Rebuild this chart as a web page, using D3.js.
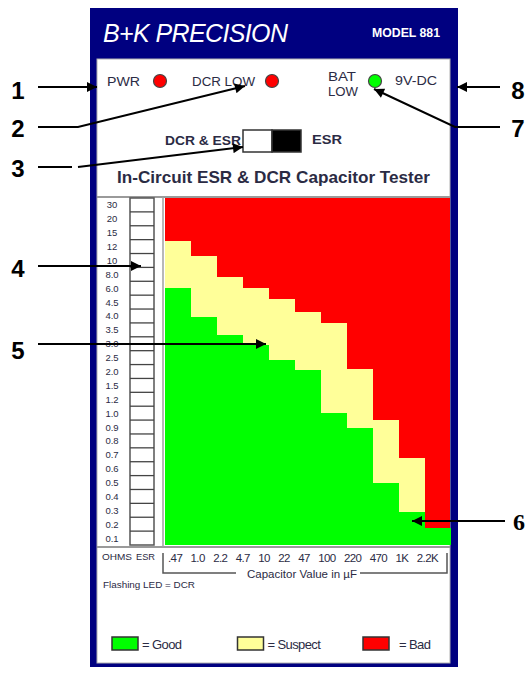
<!DOCTYPE html>
<html>
<head>
<meta charset="utf-8">
<script src="https://cdn.jsdelivr.net/npm/d3@7"></script>
<style>
    body { margin: 0; background: #fff; }
    text { font-family: 'Liberation Sans', Arial, sans-serif; }
</style>
</head>
<body>
<div id="chart"></div>
<script>
// ESR rows, top to bottom (ohms)
const esrLabels = ['30', '20', '15', '12', '10', '8.0', '6.0', '4.5', '4.0', '3.5', '3.0', '2.5', '2.0',
    '1.5', '1.2', '1.0', '0.9', '0.8', '0.7', '0.6', '0.5', '0.4', '0.3', '0.2', '0.1'];
// capacitor values along the bottom (uF)
const capLabels = ['.47', '1.0', '2.2', '4.7', '10', '22', '47', '100', '220', '470', '1K', '2.2K'];
// per chart column: where "bad" ends and where "good" starts, in ESR rows from the top
const badEdge = [3.1, 4.2, 5.7, 6.5, 7.3, 8.2, 9.0, 12.3, 16.0, 18.7, 23.8];
const goodEdge = [6.5, 8.6, 9.9, 10.6, 11.7, 12.4, 15.5, 16.6, 20.5, 22.6, 23.8];

const legendItems = ['= Good', '= Suspect', '= Bad'];
const legendColors = ['#00ff00', '#ffff99', '#ff0000'];

const width = 530;
const height = 673;
const navy = '#000080';
const ink = '#2b2b44';

const svg = d3
    .select('#chart')
    .append('svg')
    .attr('width', width)
    .attr('height', height)
    .attr('viewBox', [0, 0, width, height]);

// Panel
svg.append('rect')
    .attr('x', 90).attr('y', 8)
    .attr('width', 368).attr('height', 659)
    .attr('fill', navy);
svg.append('rect')
    .attr('x', 97).attr('y', 59)
    .attr('width', 353).attr('height', 604)
    .attr('fill', '#fff')
    .attr('stroke', '#b0b0b0');

svg.append('text')
    .attr('x', 103).attr('y', 42)
    .attr('fill', '#fff')
    .style('font-style', 'italic')
    .style('font-size', '25px')
    .attr('textLength', 185)
    .text('B+K PRECISION');
svg.append('text')
    .attr('x', 372).attr('y', 37)
    .attr('fill', '#fff')
    .style('font-weight', 'bold')
    .style('font-size', '13px')
    .attr('textLength', 68)
    .attr('lengthAdjust', 'spacingAndGlyphs')
    .text('MODEL 881');

// Indicator row
const txt = (x, y, s, size, opts = {}) =>
    svg.append('text')
        .attr('x', x).attr('y', y)
        .attr('fill', opts.fill || ink)
        .attr('text-anchor', opts.anchor || 'start')
        .attr('dominant-baseline', 'central')
        .style('font-size', size + 'px')
        .style('font-weight', opts.weight || 'normal')
        .attr('textLength', opts.len || null)
        .attr('lengthAdjust', 'spacingAndGlyphs')
        .text(s);

txt(107, 82, 'PWR', 12, { len: 33 });
txt(192, 82, 'DCR LOW', 12, { len: 63 });
txt(328, 77, 'BAT', 12, { len: 28 });
txt(328, 92, 'LOW', 12, { len: 30 });
txt(395, 81, '9V-DC', 12, { len: 42 });

const leds = [[160, '#ff0000'], [272, '#ff0000'], [375, '#00ff00']];
svg.selectAll('.led')
    .data(leds)
    .join('circle')
    .attr('class', 'led')
    .attr('cx', (d) => d[0])
    .attr('cy', 81)
    .attr('r', 6.5)
    .attr('fill', (d) => d[1])
    .attr('stroke', '#444')
    .attr('stroke-width', 1.2);

// Switch
txt(165, 141, 'DCR & ESR', 12, { len: 76, weight: 'bold' });
svg.append('rect')
    .attr('x', 243).attr('y', 130).attr('width', 29).attr('height', 22)
    .attr('fill', '#fff').attr('stroke', '#333').attr('stroke-width', 1.5);
svg.append('rect')
    .attr('x', 272).attr('y', 130).attr('width', 29).attr('height', 22)
    .attr('fill', '#000').attr('stroke', '#333').attr('stroke-width', 1.5);
txt(312, 140, 'ESR', 12, { len: 30, weight: 'bold' });

txt(117, 177, 'In-Circuit ESR & DCR Capacitor Tester', 17, { len: 313, weight: 'bold' });

// chart frame lines
svg.append('line')
    .attr('x1', 97).attr('x2', 450).attr('y1', 197).attr('y2', 197)
    .attr('stroke', '#9a9a9a').attr('stroke-width', 2);
svg.append('line')
    .attr('x1', 97).attr('x2', 450).attr('y1', 547).attr('y2', 547)
    .attr('stroke', '#9a9a9a').attr('stroke-width', 2);
svg.append('line')
    .attr('x1', 163).attr('x2', 163).attr('y1', 197).attr('y2', 547)
    .attr('stroke', '#a0a0a0').attr('stroke-width', 1.5);

// Scales
const plot = { left: 165, right: 450, top: 198, bottom: 545 };

const yBand = d3.scaleBand().domain(esrLabels).range([plot.top, plot.bottom]);
const yRow = d3.scaleLinear().domain([0, esrLabels.length]).range([plot.top, plot.bottom]);
const xCol = d3.scaleBand().domain(d3.range(badEdge.length)).range([plot.left, plot.right]);

// Bad everywhere, then suspect and good laid over it
svg.append('rect')
    .attr('x', plot.left).attr('y', plot.top)
    .attr('width', plot.right - plot.left).attr('height', plot.bottom - plot.top)
    .attr('fill', legendColors[2]);

const cols = badEdge.map((b, i) => ({ i, bad: b, good: goodEdge[i] }));

svg.append('g')
    .attr('shape-rendering', 'crispEdges')
    .selectAll('rect')
    .data(cols)
    .join('rect')
    .attr('x', (d) => xCol(d.i))
    .attr('width', xCol.bandwidth() + 0.5)
    .attr('y', (d) => yRow(d.bad))
    .attr('height', (d) => yRow(esrLabels.length) - yRow(d.bad))
    .attr('fill', legendColors[1]);

svg.append('g')
    .attr('shape-rendering', 'crispEdges')
    .selectAll('rect')
    .data(cols)
    .join('rect')
    .attr('x', (d) => xCol(d.i))
    .attr('width', xCol.bandwidth() + 0.5)
    .attr('y', (d) => yRow(d.good))
    .attr('height', (d) => yRow(esrLabels.length) - yRow(d.good))
    .attr('fill', legendColors[0]);

// ESR labels and ladder
svg.append('g')
    .selectAll('text')
    .data(esrLabels)
    .join('text')
    .attr('x', 112)
    .attr('y', (d) => yBand(d) + yBand.bandwidth() / 2)
    .attr('text-anchor', 'middle')
    .attr('dominant-baseline', 'central')
    .attr('fill', ink)
    .style('font-size', '9.5px')
    .text((d) => d);

svg.append('rect')
    .attr('x', 130).attr('y', plot.top)
    .attr('width', 24).attr('height', plot.bottom - plot.top)
    .attr('fill', '#fff').attr('stroke', '#555').attr('stroke-width', 1.5);

svg.append('g')
    .selectAll('line')
    .data(esrLabels.slice(1))
    .join('line')
    .attr('x1', 130).attr('x2', 154)
    .attr('y1', (d) => yBand(d))
    .attr('y2', (d) => yBand(d))
    .attr('stroke', '#444').attr('stroke-width', 1.3);

// Capacitor labels, set in a row like the printed scale
txt(102, 557, 'OHMS', 9, { len: 30 });
txt(136, 557, 'ESR', 9, { len: 19 });

const capRow = svg.append('g');
const capText = capRow.selectAll('text')
    .data(capLabels)
    .join('text')
    .attr('y', 558)
    .attr('dominant-baseline', 'central')
    .attr('fill', ink)
    .style('font-size', '11.5px')
    .style('letter-spacing', '-0.6px')
    .text((d) => d);

const capWidths = capText.nodes().map((n) => n.getComputedTextLength());
const capStart = 168;
const capEnd = 438;
const gap = (capEnd - capStart - d3.sum(capWidths)) / (capLabels.length - 1);
let cx = capStart;
capText.attr('x', (d, i) => {
    const x = cx;
    cx += capWidths[i] + gap;
    return x;
});

// bracket under the scale
svg.append('path')
    .attr('d', 'M163,553 V573 H236 M360,573 H447 V553')
    .attr('fill', 'none')
    .attr('stroke', '#555')
    .attr('stroke-width', 1.5);
txt(247, 574, 'Capacitor Value in \u00b5F', 11, { len: 110 });
txt(103, 585, 'Flashing LED = DCR', 9, { len: 92 });

// Legend
const legendX = d3.scalePoint().domain(legendItems).range([112, 363]);
const legend = svg.append('g')
    .selectAll('g')
    .data(legendItems)
    .join('g')
    .attr('transform', (d) => `translate(${legendX(d)},637)`);
legend.append('rect')
    .attr('width', 26).attr('height', 13)
    .attr('fill', (d, i) => legendColors[i])
    .attr('stroke', '#333').attr('stroke-width', 1.5);
legend.append('text')
    .attr('x', (d, i) => (i == 2 ? 36 : 30))
    .attr('y', 7)
    .attr('dominant-baseline', 'central')
    .attr('fill', ink)
    .style('font-size', '13px')
    .style('letter-spacing', '-0.6px')
    .text((d) => d);

// Callouts
const callouts = [
    { n: '1', x: 18, y: 90, d: 'M38,87 H97' },
    { n: '2', x: 18, y: 128, d: 'M38,127 H78 L245,86' },
    { n: '3', x: 18, y: 168, d: 'M38,167 H72 M78,167 L243,147' },
    { n: '4', x: 18, y: 268, d: 'M38,266 H141' },
    { n: '5', x: 18, y: 350, d: 'M38,344 H266' },
    { n: '8', x: 518, y: 90, d: 'M500,87 H457' },
    { n: '7', x: 518, y: 128, d: 'M500,127 H455 L374,89' },
    { n: '6', x: 519, y: 522, d: 'M505,521 H412', serif: true },
];

svg.append('defs')
    .append('marker')
    .attr('id', 'head')
    .attr('viewBox', '0 0 10 10')
    .attr('refX', 10).attr('refY', 5)
    .attr('markerWidth', 7).attr('markerHeight', 5)
    .attr('markerUnits', 'strokeWidth')
    .attr('orient', 'auto')
    .append('path')
    .attr('d', 'M0,0 L10,5 L0,10 Z')
    .attr('fill', '#000');

svg.append('g')
    .selectAll('path')
    .data(callouts)
    .join('path')
    .attr('d', (d) => d.d)
    .attr('fill', 'none')
    .attr('stroke', '#000')
    .attr('stroke-width', 2)
    .attr('marker-end', 'url(#head)');

svg.append('g')
    .selectAll('text')
    .data(callouts)
    .join('text')
    .attr('x', (d) => d.x)
    .attr('y', (d) => d.y)
    .attr('text-anchor', 'middle')
    .attr('dominant-baseline', 'central')
    .style('font-family', (d) => (d.serif ? "'Liberation Serif', serif" : null))
    .style('font-size', '24px')
    .style('font-weight', 'bold')
    .text((d) => d.n);
</script>
</body>
</html>
